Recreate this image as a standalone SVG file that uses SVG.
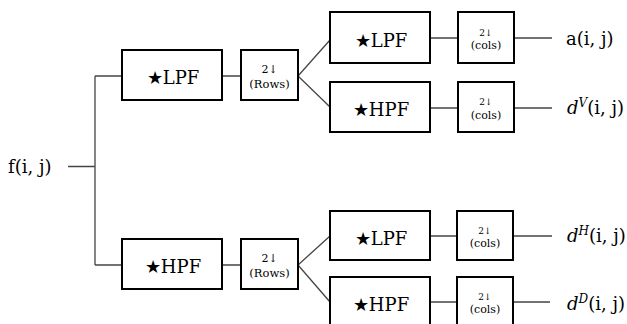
<svg xmlns="http://www.w3.org/2000/svg" width="627" height="324" viewBox="0 0 627 324">
<style>
.box{fill:#fff;stroke:#000;stroke-width:2}
.con{fill:none;stroke:#444;stroke-width:1.3}
text{font-family:'DejaVu Serif','Liberation Serif',serif;fill:#000}
.t{text-anchor:middle}
.f{font-size:18px}
.r1{font-size:11px}
.r2{font-size:11.5px}
.c1{font-size:9px}
.c2{font-size:11px}
.o{font-size:18px}
.i{font-style:italic}
</style>
<rect width="627" height="324" fill="#fff"/>
<g id="connectors">
<path class="con" d="M68,166.5 H95 M95,76 V265 M95,76 H122 M95,265 H122"/>
<path class="con" d="M222,76 H241 M222,265 H241"/>
<path class="con" d="M330,40 L298,76 L330,107 M330,236 L298,265 L330,302"/>
<path class="con" d="M430,38 H458 M514,38 H552 M430,108 H458 M514,108 H552"/>
<path class="con" d="M430,236 H457 M513,236 H552 M430,302 H457 M513,302 H550"/>
</g>
<g id="input"><text class="o" x="8" y="173">f(i, j)</text></g>
<g id="lpf1"><rect class="box" x="122" y="50" width="100" height="50"/><text class="t f" x="173" y="84">★LPF</text></g>
<g id="rows1"><rect class="box" x="241" y="50" width="57" height="50"/><text class="t r1" x="269.5" y="73">2↓</text><text class="t r2" x="269.5" y="88">(Rows)</text></g>
<g id="hpf1"><rect class="box" x="122" y="239" width="100" height="50"/><text class="t f" x="173" y="273">★HPF</text></g>
<g id="rows2"><rect class="box" x="241" y="239" width="57" height="50"/><text class="t r1" x="269.5" y="262">2↓</text><text class="t r2" x="269.5" y="277">(Rows)</text></g>
<g id="lpf2"><rect class="box" x="330" y="12" width="100" height="51"/><text class="t f" x="381" y="46.5">★LPF</text></g>
<g id="cols1"><rect class="box" x="458" y="12" width="56" height="51"/><text class="t c1" x="486" y="35.5">2↓</text><text class="t c2" x="486" y="49">(cols)</text></g>
<g id="hpf2"><rect class="box" x="330" y="82" width="100" height="50"/><text class="t f" x="381" y="116">★HPF</text></g>
<g id="cols2"><rect class="box" x="458" y="82" width="56" height="50"/><text class="t c1" x="486" y="105">2↓</text><text class="t c2" x="486" y="119">(cols)</text></g>
<g id="lpf3"><rect class="box" x="330" y="211" width="100" height="49"/><text class="t f" x="381" y="244.5">★LPF</text></g>
<g id="cols3"><rect class="box" x="457" y="211" width="56" height="49"/><text class="t c1" x="485" y="233.5">2↓</text><text class="t c2" x="485" y="247">(cols)</text></g>
<g id="hpf3"><rect class="box" x="330" y="277" width="100" height="50"/><text class="t f" x="381" y="311">★HPF</text></g>
<g id="cols4"><rect class="box" x="457" y="277" width="56" height="50"/><text class="t c1" x="485" y="299.5">2↓</text><text class="t c2" x="485" y="313">(cols)</text></g>
<g id="out-a"><text class="o" x="566" y="45">a(i, j)</text></g>
<g id="out-dv"><text class="o" x="567" y="114"><tspan class="i">d</tspan><tspan class="i" font-size="12" dy="-7">V</tspan><tspan dy="7">(i, j)</tspan></text></g>
<g id="out-dh"><text class="o" x="567" y="242"><tspan class="i">d</tspan><tspan class="i" font-size="12" dy="-7">H</tspan><tspan dy="7">(i, j)</tspan></text></g>
<g id="out-dd"><text class="o" x="567" y="310"><tspan class="i">d</tspan><tspan class="i" font-size="12" dy="-7">D</tspan><tspan dy="7">(i, j)</tspan></text></g>
</svg>
